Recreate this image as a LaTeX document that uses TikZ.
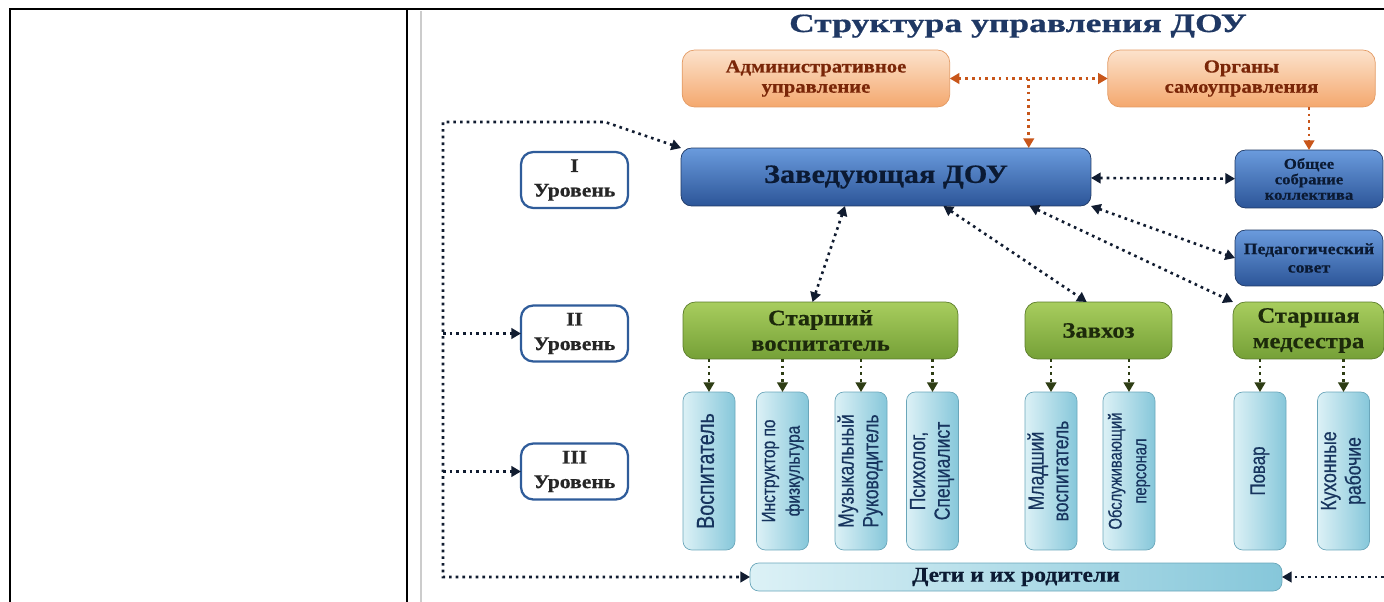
\documentclass[tikz,border=0pt]{standalone}
\usepackage{fontspec}
\setmainfont{Liberation Serif}
\newfontfamily\widefont[FakeStretch=1.12,FakeBold=0.5]{Liberation Serif}
\newfontfamily\headfont[FakeStretch=1.15,FakeBold=0.6]{Liberation Serif}
\newfontfamily\titlefont[FakeStretch=1.35,FakeBold=0.6]{Liberation Serif}
\newfontfamily\narrowfont[FakeStretch=0.8,FakeBold=0.5]{Liberation Sans}
\usetikzlibrary{arrows.meta,positioning,calc}

\definecolor{navy}{HTML}{1F3864}
\definecolor{dotcol}{HTML}{111C30}
\definecolor{ortop}{HTML}{FCE2CC}
\definecolor{orbot}{HTML}{F4A86E}
\definecolor{orline}{HTML}{E39A63}
\definecolor{ortext}{HTML}{7A2608}
\definecolor{orarrow}{HTML}{C8561A}
\definecolor{bltop}{HTML}{6A9BDD}
\definecolor{blbot}{HTML}{2C5598}
\definecolor{bltext}{HTML}{0B1A33}
\definecolor{lvline}{HTML}{2F5C9A}
\definecolor{grtop}{HTML}{A8CD5E}
\definecolor{grbot}{HTML}{75A037}
\definecolor{grline}{HTML}{5B7C2A}
\definecolor{grtext}{HTML}{1D2A0B}
\definecolor{grarrow}{HTML}{2E3D14}
\definecolor{sttop}{HTML}{DCF1F6}
\definecolor{stbot}{HTML}{86C7DA}
\definecolor{stline}{HTML}{6AA6BA}
\definecolor{sttext}{HTML}{17345E}

\newcommand\vtext[1]{\rotatebox{90}{\begin{tabular}{@{}c@{}}#1\end{tabular}}}

\begin{document}
\begin{tikzpicture}[x=0.02cm, y=-0.02cm, >={Triangle[length=5.5pt,width=6pt]},
    every node/.style={inner sep=0pt, outer sep=0pt, align=center},
    admbox/.style={draw=orline, rounded corners=7pt, top color=ortop, bottom color=orbot, text=ortext,
      font=\widefont\bfseries\fontsize{10.5}{11.5}\selectfont, minimum width=5.35cm, minimum height=1.14cm},
    headbox/.style={draw=navy, rounded corners=6pt, top color=bltop, bottom color=blbot, text=bltext,
      font=\widefont\bfseries\fontsize{8.5}{8.8}\selectfont, minimum width=2.96cm, minimum height=1.16cm},
    levelbox/.style={draw=lvline, line width=1.3pt, rounded corners=7pt, fill=white, text=black!85,
      font=\widefont\bfseries\fontsize{11}{14}\selectfont, minimum width=2.14cm, minimum height=1.12cm},
    chiefbox/.style={draw=grline, rounded corners=7pt, top color=grtop, bottom color=grbot, text=grtext,
      font=\widefont\bfseries\fontsize{12.5}{14.5}\selectfont, minimum height=1.14cm},
    staffbox/.style={draw=stline, rounded corners=5pt, left color=sttop, right color=stbot, text=sttext,
      font=\narrowfont\fontsize{12.5}{14}\selectfont, minimum width=1.04cm, minimum height=3.16cm},
    kidsbox/.style={draw=stline, rounded corners=5pt, left color=sttop, right color=stbot, text=bltext,
      font=\widefont\bfseries\fontsize{12}{14}\selectfont, minimum width=10.64cm, minimum height=0.56cm},
    link/.style={color=dotcol, line width=1.5pt, dash pattern=on 1.5pt off 2.3pt},
    orlink/.style={link, color=orarrow},
    stafflink/.style={link, color=grarrow, ->}]
  \useasboundingbox (0,0) rectangle (1384,602);
  \draw[line width=1.2pt] (10,602) -- (10,9) -- (1384,9) (407,9) -- (407,602);
  \draw[black!20, line width=0.8pt] (421,11) -- (421,602);

  \node[font=\titlefont\bfseries\fontsize{15}{17}\selectfont, text=navy, anchor=base] (title) at (1018,32) {Структура управления ДОУ};

  \node[admbox] (adm) at (816,78.5) {Административное\\управление};
  \node[admbox] (org) at (1241.5,78.5) {Органы\\самоуправления};
  \node[headbox, minimum width=8.2cm, font=\headfont\bfseries\fontsize{15}{17}\selectfont] (head) at (886,177) {Заведующая ДОУ};
  \node[headbox] (meet) at (1309,179) {Общее\\собрание\\коллектива};
  \node[headbox, minimum height=1.12cm, font=\widefont\bfseries\fontsize{9}{10.5}\selectfont] (council) at (1309,258) {Педагогический\\совет};

  \node[levelbox] (lvl1) at (574.5,180) {I\\Уровень};
  \node[levelbox] (lvl2) at (574.5,333.5) {II\\Уровень};
  \node[levelbox] (lvl3) at (574.5,471.5) {III\\Уровень};

  \node[chiefbox, minimum width=5.5cm] (senior) at (820.5,330.5) {Старший\\воспитатель};
  \node[chiefbox, minimum width=2.94cm] (supply) at (1098.5,330.5) {Завхоз};
  \node[chiefbox, minimum width=3.02cm] (nurse) at (1308.5,330.5) {Старшая\\медсестра};

  \node[staffbox, font=\narrowfont\fontsize{14}{14}\selectfont] (s1) at (709,471) {\vtext{Воспитатель}};
  \node[staffbox, font=\narrowfont\fontsize{11}{14}\selectfont] (s2) at (782.5,471) {\vtext{Инструктор по\\физкультура}};
  \node[staffbox] (s3) at (861,471) {\vtext{Музыкальный\\Руководитель}};
  \node[staffbox] (s4) at (932.5,471) {\vtext{Психолог,\\Специалист}};
  \node[staffbox] (s5) at (1051,471) {\vtext{Младший\\воспитатель}};
  \node[staffbox, font=\narrowfont\fontsize{10.5}{14}\selectfont] (s6) at (1129,471) {\vtext{Обслуживающий\\персонал}};
  \node[staffbox, font=\narrowfont\fontsize{12}{14}\selectfont] (s7) at (1260,471) {\vtext{Повар}};
  \node[staffbox] (s8) at (1343.5,471) {\vtext{Кухонные\\рабочие}};

  \node[kidsbox] (kids) at (1016,577) {Дети и их родители};

  \coordinate (bend) at (605,122);
  \coordinate (ltop) at (443,122);
  \coordinate (lbot) at (ltop |- kids.west);
  \coordinate (rend) at (1384,577);
  \coordinate (split) at ($(adm.east)!0.5!(org.west)$);

  \path[orlink,<->] (adm) edge (org);
  \path[orlink,->] (split) edge (split |- head.north)
    (org.south -| meet) edge (meet);

  \path[link,<->] (head) edge (meet)
    ($(head.south west)!0.4!(head.south east)$) edge ([xshift=-0.16cm]senior.north)
    ($(head.south west)!0.64!(head.south east)$) edge ($(supply.north west)!0.42!(supply.north east)$)
    ($(head.south west)!0.85!(head.south east)$) edge (nurse.north west)
    (head.south east) edge (council.west);

  \draw[link,<->] (head.north west) -- (bend) -- (ltop) -- (lbot) -- (kids.west);
  \path[link,->] (ltop |- lvl2) edge (lvl2)
    (ltop |- lvl3) edge (lvl3)
    (rend) edge (kids);

  \foreach \s/\c in {s1/senior, s2/senior, s3/senior, s4/senior, s5/supply, s6/supply, s7/nurse, s8/nurse}
    \path[stafflink] (\s |- \c.south) edge (\s);
\end{tikzpicture}
\end{document}
